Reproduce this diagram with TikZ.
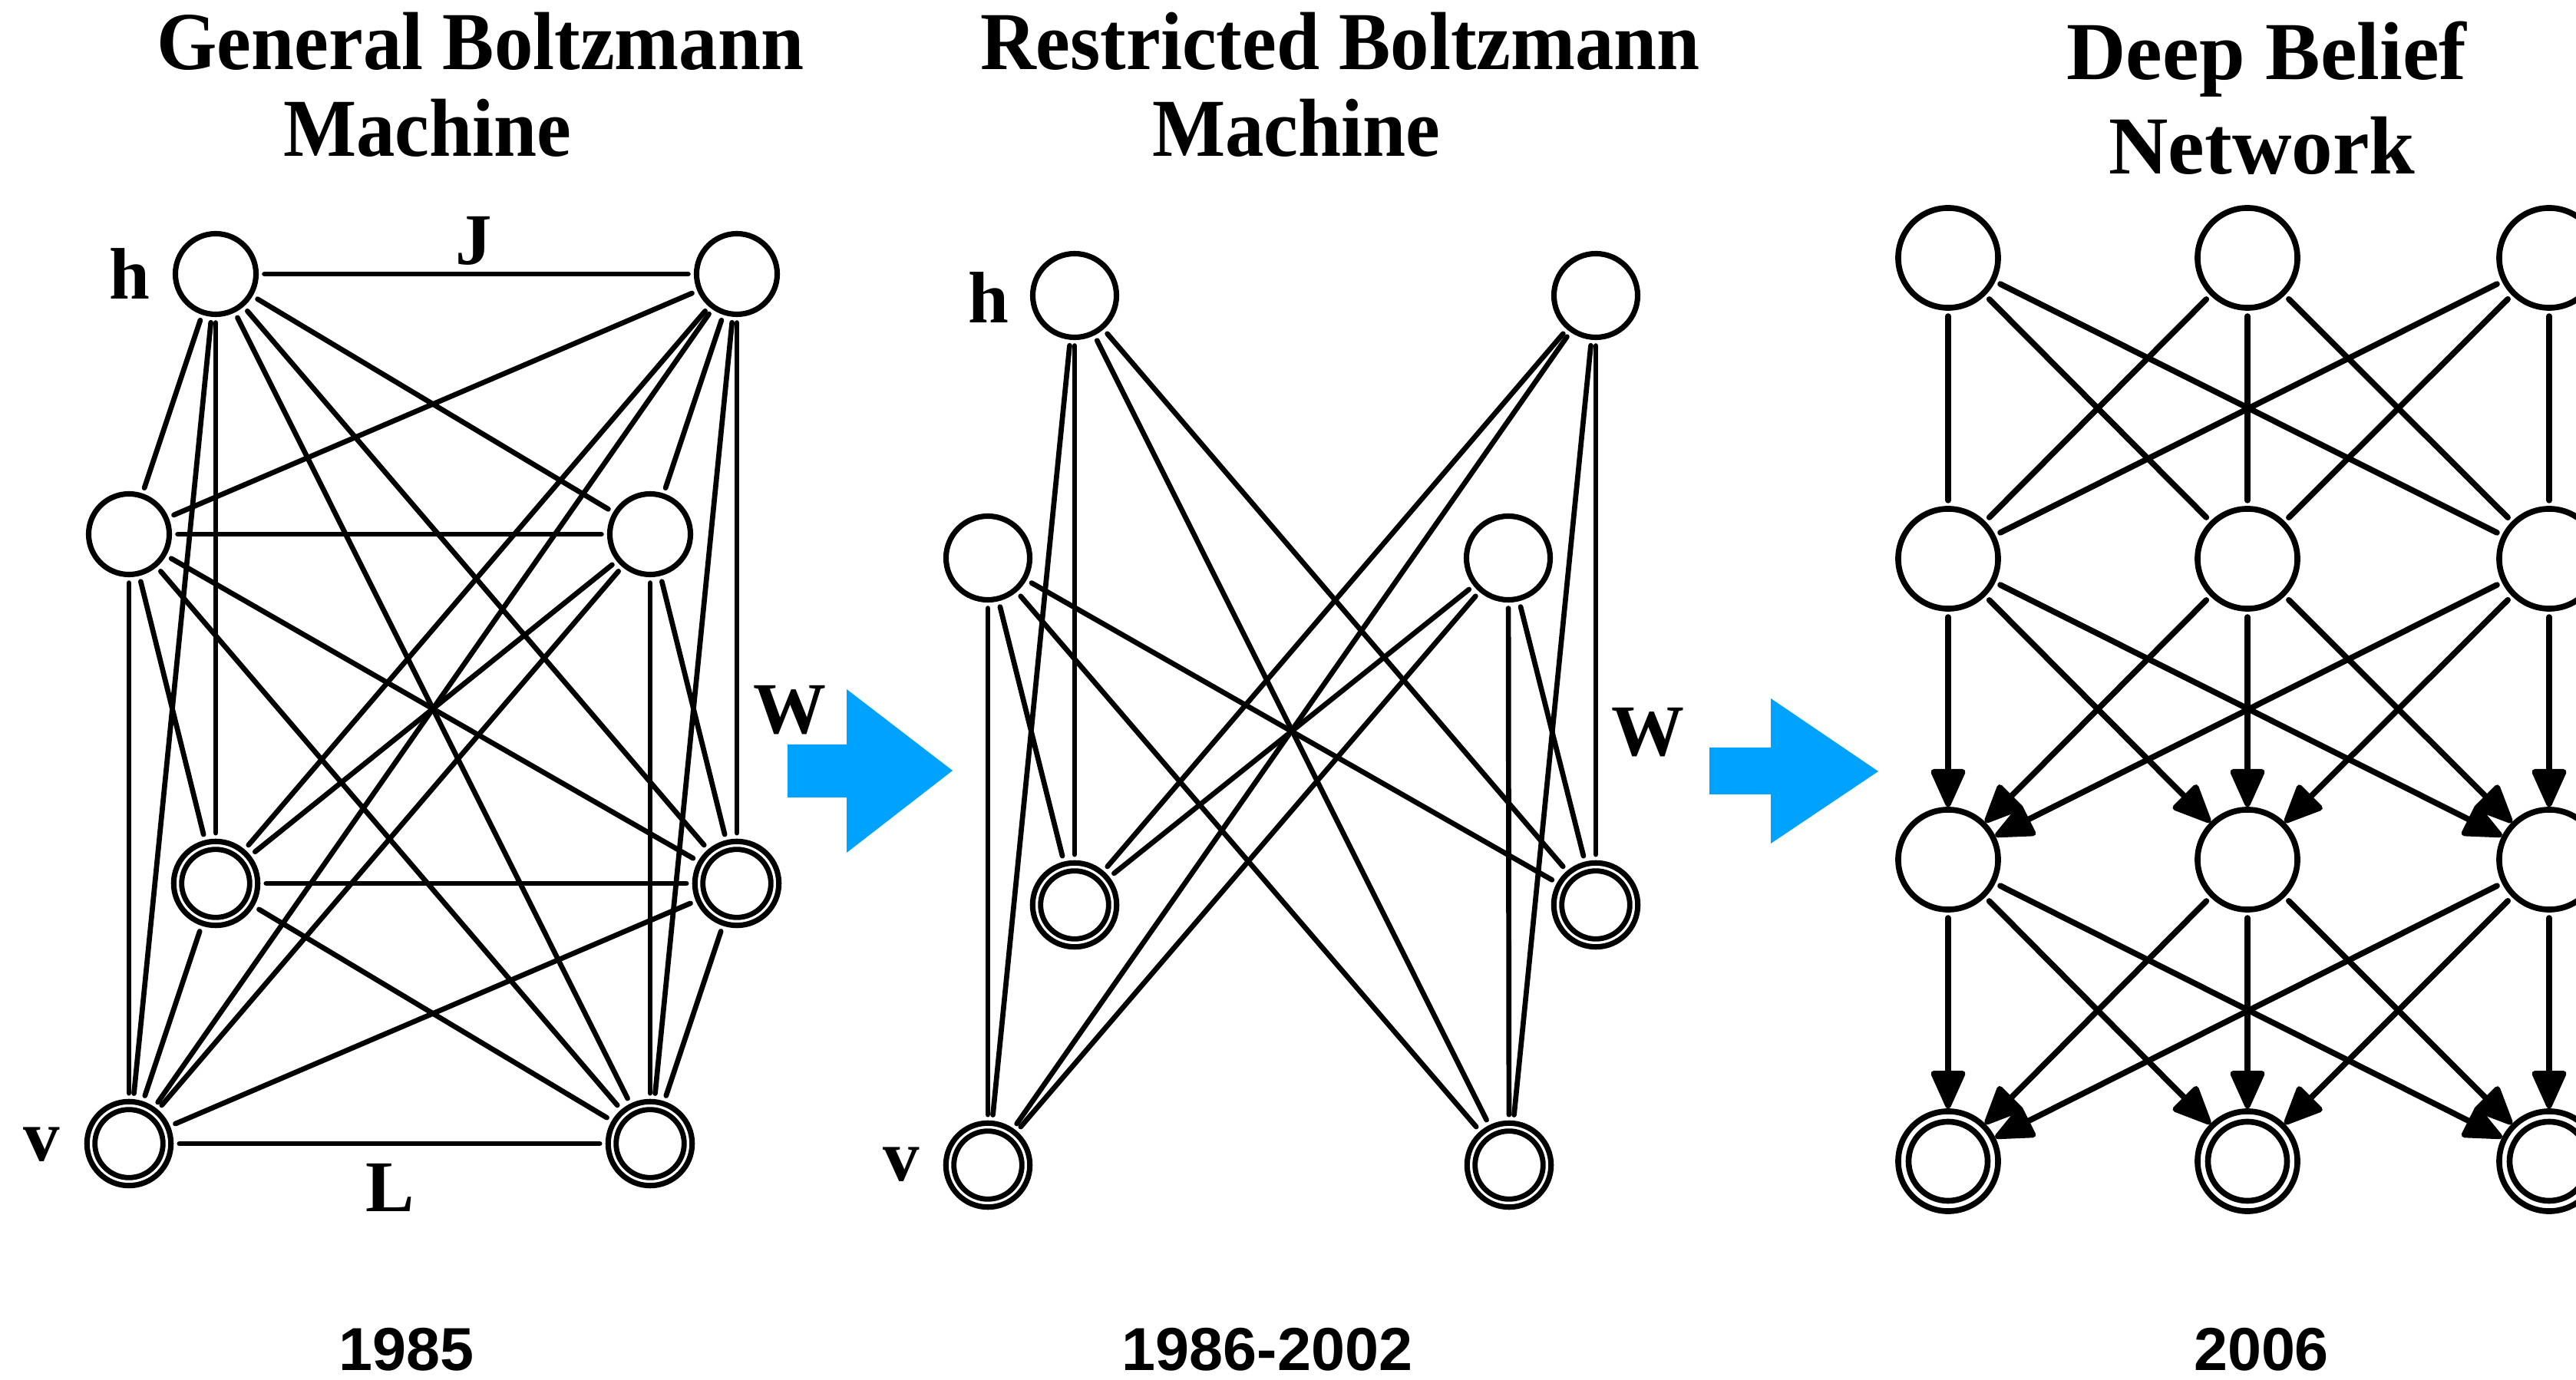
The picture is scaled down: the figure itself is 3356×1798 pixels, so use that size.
\documentclass[tikz,border=0pt]{standalone}
\usepackage{fontspec}
\usetikzlibrary{arrows.meta}
\newfontfamily\ttlnarrow[FakeStretch=0.94]{Liberation Serif}
\newfontfamily\ttlserif{Liberation Serif}
\newfontfamily\yearsans{Liberation Sans}
\definecolor{flowblue}{RGB}{0,162,255}

\begin{document}
\begin{tikzpicture}[x=0.01cm,y=-0.01cm,
  unit/.style={circle,draw,line width=0.071cm,minimum size=1.05cm,inner sep=0pt},
  runit/.style={unit,minimum size=1.09cm},
  visunit/.style={unit,minimum size=1.094cm,
    path picture={\draw[line width=0.068cm] (path picture bounding box.center) circle (0.443cm);}},
  dunit/.style={circle,draw,line width=0.076cm,minimum size=1.30cm,inner sep=0pt},
  dvisunit/.style={dunit,
    path picture={\draw[line width=0.076cm] (path picture bounding box.center) circle (0.515cm);}},
  link/.style={line width=0.067cm,line cap=round,shorten <=0.075cm,shorten >=0.075cm},
  dlink/.style={line width=0.076cm,line cap=round,shorten <=0.072cm,shorten >=0.072cm},
  darrow/.style={line width=0.076cm,line cap=round,shorten <=0.072cm,
    -{Triangle[length=0.55cm,width=0.47cm,round]}},
  ttl/.style={anchor=base,inner sep=0pt,font=\ttlnarrow\fontsize{30.5}{36}\selectfont\bfseries},
  ttlw/.style={anchor=base,inner sep=0pt,font=\ttlserif\fontsize{30.5}{36}\selectfont\bfseries},
  lbl/.style={anchor=base,inner sep=0pt,font=\ttlserif\fontsize{27}{32}\selectfont\bfseries},
  yr/.style={anchor=base,inner sep=0pt,font=\yearsans\fontsize{22.5}{27}\selectfont\bfseries}]

\useasboundingbox (0,0) rectangle (3356,1798);
\clip (0,0) rectangle (3356,1798);

% ---------- General Boltzmann Machine ----------
\node[ttl] (gtitle1) at (626,91) {General Boltzmann};
\node[ttl] (gtitle2) at (557,204) {Machine};

\node[unit]    (g1) at (281,357)  {};
\node[unit]    (g2) at (960,357)  {};
\node[unit]    (g3) at (168,696)  {};
\node[unit]    (g4) at (847,696)  {};
\node[visunit] (g5) at (281,1151) {};
\node[visunit] (g6) at (960,1151) {};
\node[visunit] (g7) at (168,1490) {};
\node[visunit] (g8) at (847,1490) {};

% every unit is coupled to every other unit
\foreach \i in {1,...,7}{
  \pgfmathtruncatemacro\s{\i+1}
  \foreach \j in {\s,...,8}{
    \draw[link] (g\i) -- (g\j);
  }
}

\node[lbl] (gh) at (169,390)  {h};
\node[lbl] (gJ) at (617,345)  {J};
\node[lbl] (gW) at (1029,956) {W};
\node[lbl] (gv) at (54,1512)  {v};
\node[lbl] (gL) at (508,1578) {L};

\node[yr] (gyear) at (530,1785) {1985};

% ---------- arrow to the restricted machine ----------
\fill[flowblue] (1026,970) -- (1103,970) -- (1103,898) -- (1241,1004)
  -- (1103,1111) -- (1103,1039) -- (1026,1039) -- cycle;

% ---------- Restricted Boltzmann Machine ----------
\node[ttl] (rtitle1) at (1746,91) {Restricted Boltzmann};
\node[ttl] (rtitle2) at (1689,204) {Machine};

\node[runit]   (r1) at (1400,385)  {};
\node[runit]   (r2) at (2079,385)  {};
\node[runit]   (r3) at (1287,727)  {};
\node[runit]   (r4) at (1965,727)  {};
\node[visunit] (r5) at (1400,1179) {};
\node[visunit] (r6) at (2079,1179) {};
\node[visunit] (r7) at (1287,1518) {};
\node[visunit] (r8) at (1966,1518) {};

% hidden units connect only to visible units
\foreach \i in {1,...,4}{
  \foreach \j in {5,...,8}{
    \draw[link] (r\i) -- (r\j);
  }
}

\node[lbl] (rh) at (1288,421)  {h};
\node[lbl] (rW) at (2147,985)  {W};
\node[lbl] (rv) at (1174,1538) {v};

\node[yr] (ryear) at (1651,1785) {1986-2002};

% ---------- arrow to the deep belief network ----------
\fill[flowblue] (2227,974) -- (2307,974) -- (2307,910) -- (2447,1005)
  -- (2307,1099) -- (2307,1035) -- (2227,1035) -- cycle;

% ---------- Deep Belief Network ----------
\node[ttlw] (dtitle1) at (2953,104) {Deep Belief};
\node[ttlw] (dtitle2) at (2947,227) {Network};

\foreach \c/\x in {1/2538,2/2928,3/3321}{
  \node[dunit]    (d1\c) at (\x,336)  {};
  \node[dunit]    (d2\c) at (\x,728)  {};
  \node[dunit]    (d3\c) at (\x,1120) {};
  \node[dvisunit] (d4\c) at (\x,1513) {};
}

% undirected top pair of layers, directed layers below
\foreach \i in {1,2,3}{
  \foreach \j in {1,2,3}{
    \draw[dlink]  (d1\i) -- (d2\j);
    \draw[darrow] (d2\i) -- (d3\j);
    \draw[darrow] (d3\i) -- (d4\j);
  }
}

\node[yr] (dyear) at (2946,1785) {2006};

\end{tikzpicture}
\end{document}
